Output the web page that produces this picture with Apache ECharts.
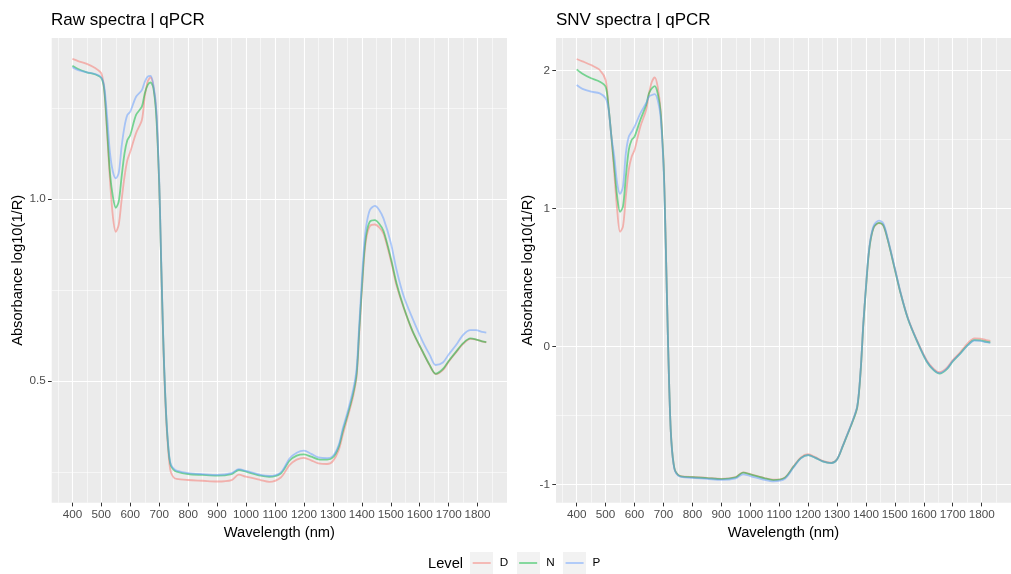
<!DOCTYPE html>
<html>
<head>
<meta charset="utf-8">
<script src="https://cdn.jsdelivr.net/npm/echarts@6/dist/echarts.min.js"></script>
<style>
  html, body { margin: 0; padding: 0; background: #fff; }
  #chart { width: 1011px; height: 574px; }
</style>
</head>
<body>
<div id="chart"></div>
<script>
// Wavelengths (nm) at which the mean spectrum of each level is sampled
const wavelength = [400,420,450,480,500,510,520,530,540,550,560,570,580,590,600,620,640,650,660,670,680,690,700,705,710,715,720,725,730,735,740,750,760,800,850,900,950,975,1000,1050,1080,1120,1150,1175,1200,1225,1250,1280,1300,1320,1335,1350,1370,1382,1391,1400,1408,1416,1428,1445,1460,1475,1500,1520,1545,1575,1610,1635,1655,1680,1700,1725,1750,1775,1795,1815,1830];

const levels = ['D', 'N', 'P'];

// Raw absorbance log10(1/R)
const rawD = [1.385,1.379,1.371,1.359,1.345,1.300,1.180,1.050,0.951,0.910,0.929,0.997,1.061,1.107,1.130,1.181,1.217,1.281,1.322,1.334,1.309,1.236,1.040,0.880,0.720,0.580,0.465,0.380,0.320,0.275,0.250,0.235,0.231,0.228,0.226,0.224,0.228,0.243,0.237,0.228,0.223,0.235,0.269,0.284,0.289,0.282,0.274,0.272,0.280,0.310,0.355,0.398,0.458,0.513,0.630,0.745,0.840,0.895,0.926,0.930,0.922,0.905,0.832,0.762,0.700,0.636,0.580,0.542,0.519,0.530,0.553,0.578,0.602,0.616,0.614,0.609,0.606];
const rawN = [1.366,1.357,1.348,1.342,1.332,1.300,1.190,1.070,1.006,0.976,0.993,1.061,1.125,1.162,1.176,1.231,1.254,1.290,1.313,1.320,1.304,1.226,1.040,0.880,0.725,0.585,0.475,0.390,0.330,0.288,0.268,0.256,0.251,0.2445,0.242,0.240,0.2445,0.2555,0.251,0.240,0.237,0.246,0.281,0.295,0.2985,0.292,0.285,0.284,0.290,0.319,0.365,0.405,0.466,0.521,0.640,0.755,0.851,0.906,0.938,0.942,0.932,0.912,0.838,0.768,0.702,0.638,0.581,0.543,0.520,0.533,0.555,0.580,0.604,0.617,0.614,0.609,0.607];
const rawP = [1.362,1.354,1.348,1.343,1.334,1.309,1.226,1.126,1.075,1.057,1.071,1.144,1.199,1.231,1.240,1.281,1.299,1.322,1.336,1.338,1.313,1.245,1.050,0.890,0.730,0.590,0.478,0.393,0.333,0.291,0.271,0.259,0.254,0.247,0.244,0.242,0.247,0.258,0.253,0.242,0.239,0.249,0.287,0.303,0.3085,0.300,0.290,0.288,0.294,0.324,0.372,0.413,0.476,0.535,0.655,0.775,0.875,0.930,0.970,0.981,0.970,0.946,0.880,0.805,0.732,0.672,0.609,0.571,0.544,0.551,0.573,0.598,0.627,0.640,0.640,0.635,0.633];

// SNV-transformed spectra
const snvD = [2.082,2.065,2.038,2.002,1.930,1.736,1.519,1.254,0.988,0.830,0.867,1.084,1.278,1.374,1.422,1.591,1.712,1.833,1.917,1.949,1.881,1.712,1.350,1.000,0.550,0.100,-0.300,-0.600,-0.760,-0.850,-0.900,-0.930,-0.940,-0.947,-0.953,-0.960,-0.947,-0.914,-0.926,-0.955,-0.967,-0.950,-0.868,-0.805,-0.782,-0.803,-0.830,-0.843,-0.818,-0.722,-0.643,-0.565,-0.440,-0.170,0.160,0.420,0.635,0.770,0.865,0.892,0.875,0.775,0.560,0.384,0.205,0.050,-0.100,-0.165,-0.188,-0.155,-0.100,-0.045,0.018,0.058,0.055,0.045,0.040];
const snvN = [2.007,1.975,1.942,1.917,1.881,1.736,1.519,1.300,1.084,0.975,1.012,1.229,1.422,1.495,1.519,1.640,1.749,1.833,1.870,1.886,1.833,1.700,1.340,0.990,0.545,0.100,-0.300,-0.600,-0.760,-0.850,-0.900,-0.932,-0.942,-0.949,-0.955,-0.962,-0.949,-0.916,-0.928,-0.957,-0.969,-0.952,-0.872,-0.810,-0.788,-0.808,-0.834,-0.846,-0.820,-0.724,-0.645,-0.567,-0.440,-0.170,0.160,0.420,0.635,0.770,0.867,0.895,0.877,0.775,0.557,0.382,0.200,0.045,-0.110,-0.175,-0.198,-0.165,-0.110,-0.055,0.005,0.045,0.043,0.033,0.028];
const snvP = [1.893,1.865,1.845,1.833,1.797,1.720,1.519,1.374,1.181,1.104,1.157,1.399,1.519,1.555,1.591,1.688,1.761,1.809,1.821,1.828,1.785,1.664,1.320,0.980,0.540,0.100,-0.300,-0.605,-0.765,-0.855,-0.905,-0.936,-0.946,-0.954,-0.960,-0.968,-0.957,-0.928,-0.940,-0.968,-0.979,-0.960,-0.876,-0.812,-0.788,-0.808,-0.834,-0.846,-0.820,-0.722,-0.641,-0.561,-0.432,-0.160,0.170,0.430,0.647,0.782,0.879,0.910,0.890,0.785,0.565,0.388,0.203,0.047,-0.108,-0.172,-0.195,-0.162,-0.108,-0.055,0.003,0.042,0.040,0.030,0.025];

// Axis breaks
const xMajor = [400,500,600,700,800,900,1000,1100,1200,1300,1400,1500,1600,1700,1800];
const xMinor = [350,450,550,650,750,850,950,1050,1150,1250,1350,1450,1550,1650,1750,1850];
const rawMajor = [0.5, 1.0];
const rawMinor = [0.25, 0.75, 1.25];
const snvMajor = [-1, 0, 1, 2];
const snvMinor = [-0.5, 0.5, 1.5];

const colors = { D: '#F8766D', N: '#00BA38', P: '#619CFF' };
const FONT = '"Liberation Sans", Arial, sans-serif';
const PANEL_BG = '#EBEBEB';

function zip(xs, ys) { return xs.map((x, i) => [x, ys[i]]); }

function majorX(grid) {
  return {
    type: 'value', gridIndex: grid, min: 328.5, max: 1901.5,
    name: 'Wavelength (nm)', nameLocation: 'middle', nameGap: 21,
    nameTextStyle: { fontFamily: FONT, fontSize: 14.7, color: '#000' },
    axisLine: { show: false, onZero: false },
    axisTick: { show: true, length: 3.7, customValues: xMajor, lineStyle: { color: '#333333', width: 1 } },
    axisLabel: { customValues: xMajor, formatter: v => String(v), showMinLabel: true, showMaxLabel: true,
      margin: 6, fontFamily: FONT, fontSize: 11.7, color: '#4D4D4D' },
    splitLine: { show: true, lineStyle: { color: '#FFFFFF', width: 1.1 } }
  };
}
function minorX(grid) {
  return {
    type: 'value', gridIndex: grid, min: 328.5, max: 1901.5, position: 'bottom',
    axisLine: { show: false, onZero: false },
    axisTick: { show: false, customValues: xMinor },
    axisLabel: { show: false, customValues: xMinor },
    splitLine: { show: true, lineStyle: { color: '#FFFFFF', width: 0.55 } }
  };
}
function majorY(grid, min, max, ticks, fmt, gap) {
  return {
    type: 'value', gridIndex: grid, min: min, max: max,
    name: 'Absorbance log10(1/R)', nameLocation: 'middle', nameGap: gap, nameRotate: 90,
    nameTextStyle: { fontFamily: FONT, fontSize: 14.7, color: '#000' },
    axisLine: { show: false, onZero: false },
    axisTick: { show: true, length: 3.7, customValues: ticks, lineStyle: { color: '#333333', width: 1 } },
    axisLabel: { customValues: ticks, formatter: fmt, margin: 6, fontFamily: FONT, fontSize: 11.7, color: '#4D4D4D' },
    splitLine: { show: true, lineStyle: { color: '#FFFFFF', width: 1.1 } }
  };
}
function minorY(grid, min, max, ticks) {
  return {
    type: 'value', gridIndex: grid, min: min, max: max, position: 'left',
    axisLine: { show: false, onZero: false },
    axisTick: { show: false, customValues: ticks },
    axisLabel: { show: false, customValues: ticks },
    splitLine: { show: true, lineStyle: { color: '#FFFFFF', width: 0.55 } }
  };
}

function lineSeries(name, data, axisIdx) {
  return {
    name: name, type: 'line', xAxisIndex: axisIdx, yAxisIndex: axisIdx,
    data: zip(wavelength, data), showSymbol: false, symbol: 'none',
    smooth: 0.3,
    lineStyle: { color: colors[name], width: 1.8, opacity: 0.5 },
    itemStyle: { color: colors[name], opacity: 0.5 },
    emphasis: { disabled: true }, animation: false, z: 3
  };
}

const chart = echarts.init(document.getElementById('chart'), null, { renderer: 'canvas' });

const option = {
  backgroundColor: '#FFFFFF',
  animation: false,
  title: [
    { text: 'Raw spectra | qPCR', left: 51, top: 12, padding: 0,
      textStyle: { fontFamily: FONT, fontSize: 17, fontWeight: 'normal', color: '#000' } },
    { text: 'SNV spectra | qPCR', left: 556, top: 12, padding: 0,
      textStyle: { fontFamily: FONT, fontSize: 17, fontWeight: 'normal', color: '#000' } }
  ],
  grid: [
    { left: 51.7, top: 38, width: 455.3, height: 464.7, show: true, backgroundColor: PANEL_BG, borderWidth: 0 },
    { left: 556, top: 38, width: 461, height: 464.7, show: true, backgroundColor: PANEL_BG, borderWidth: 0 }
  ],
  xAxis: [majorX(0), minorX(0), majorX(1), minorX(1)],
  yAxis: [
    majorY(0, 0.1657, 1.4423, rawMajor, v => v.toFixed(1), 26),
    minorY(0, 0.1657, 1.4423, rawMinor),
    majorY(1, -1.1333, 2.234, snvMajor, v => String(v), 21),
    minorY(1, -1.1333, 2.234, snvMinor)
  ],
  legend: {
    data: levels, left: 472.7, top: 557, padding: 0,
    icon: 'rect', itemWidth: 18, itemHeight: 1.8, itemGap: 11,
    itemStyle: { opacity: 0.5 },
    textStyle: { fontFamily: FONT, fontSize: 11.7, color: '#000', padding: [0, 0, 0, 4] },
    selectedMode: false
  },
  graphic: [
    { type: 'text', left: 428, top: 556, z: 10,
      style: { text: 'Level', font: '14.7px ' + FONT, fill: '#000' } },
    { type: 'rect', shape: { x: 470, y: 552, width: 23, height: 23 }, z: -1, style: { fill: '#F2F2F2' } },
    { type: 'rect', shape: { x: 517, y: 552, width: 23, height: 23 }, z: -1, style: { fill: '#F2F2F2' } },
    { type: 'rect', shape: { x: 563, y: 552, width: 23, height: 23 }, z: -1, style: { fill: '#F2F2F2' } }
  ],
  series: [
    lineSeries('D', rawD, 0), lineSeries('N', rawN, 0), lineSeries('P', rawP, 0),
    lineSeries('D', snvD, 2), lineSeries('N', snvN, 2), lineSeries('P', snvP, 2)
  ]
};

chart.setOption(option);
</script>
</body>
</html>
